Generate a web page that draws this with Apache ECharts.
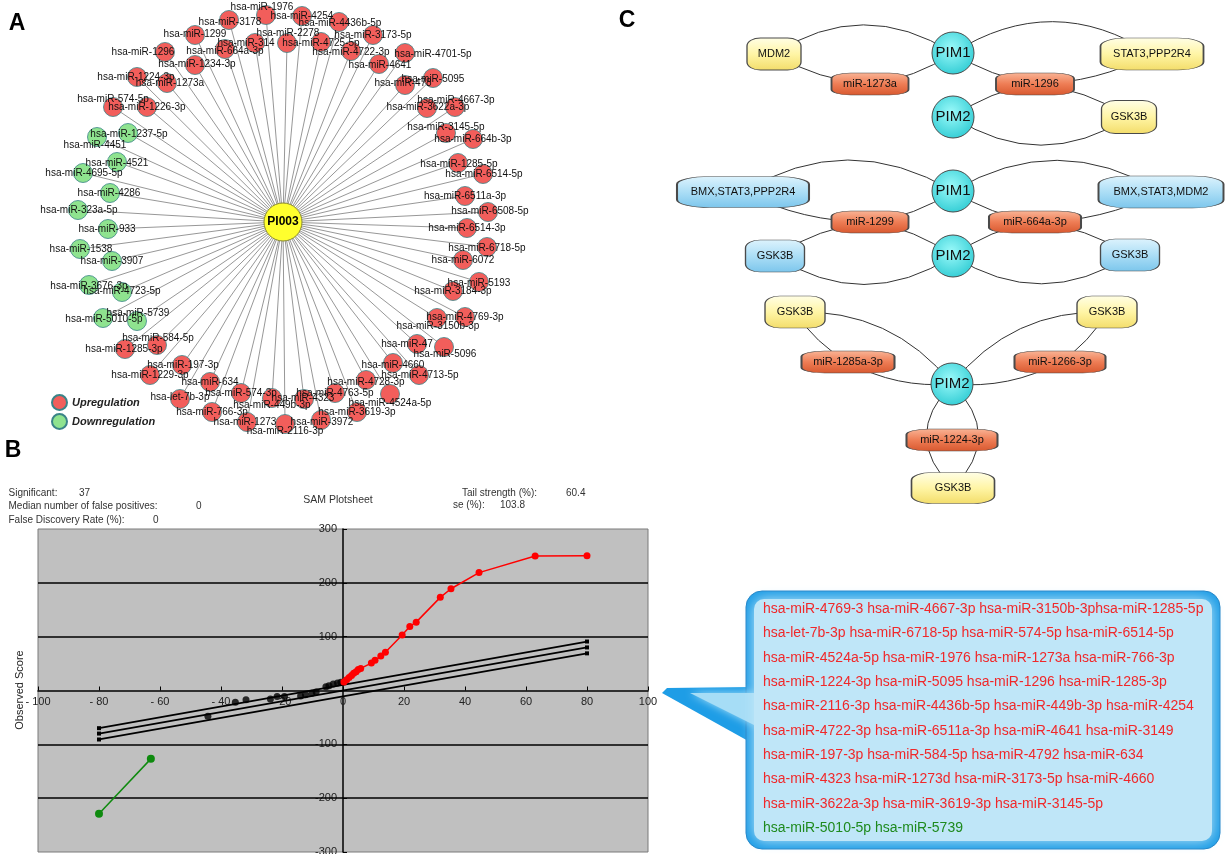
<!DOCTYPE html>
<html><head><meta charset="utf-8">
<script src="https://cdn.jsdelivr.net/npm/echarts@6/dist/echarts.min.js"></script>
<style>html,body{margin:0;padding:0;background:#fff}#c{width:1225px;height:854px}</style>
</head><body><div id="c"></div>
<script>
const FONT = "'Liberation Sans', Arial, Helvetica, sans-serif";

// ---------------- Panel A : PI003 – miRNA network ----------------
const hubName = 'PI003';
const upregulated = ['hsa-miR-1976','hsa-miR-3178','hsa-miR-1299','hsa-miR-664a-3p','hsa-miR-314','hsa-miR-1296',
 'hsa-miR-1234-3p','hsa-miR-1224-3p','hsa-miR-1273a','hsa-miR-574-5p','hsa-miR-1226-3p','hsa-miR-4254',
 'hsa-miR-4436b-5p','hsa-miR-2278','hsa-miR-4725-5p','hsa-miR-3173-5p','hsa-miR-4722-3p','hsa-miR-4701-5p',
 'hsa-miR-4641','hsa-miR-5095','hsa-miR-478','hsa-miR-4667-3p','hsa-miR-3622a-3p','hsa-miR-3145-5p',
 'hsa-miR-664b-3p','hsa-miR-1285-5p','hsa-miR-6514-5p','hsa-miR-6511a-3p','hsa-miR-6508-5p','hsa-miR-6514-3p',
 'hsa-miR-6718-5p','hsa-miR-6072','hsa-miR-5193','hsa-miR-3184-3p','hsa-miR-4769-3p','hsa-miR-3150b-3p',
 'hsa-miR-47','hsa-miR-5096','hsa-miR-4660','hsa-miR-4713-5p','hsa-miR-4728-3p','hsa-miR-4524a-5p',
 'hsa-miR-4763-5p','hsa-miR-3619-3p','hsa-miR-3972','hsa-miR-4323','hsa-miR-2116-3p','hsa-miR-449b-3p',
 'hsa-miR-1273','hsa-miR-574-3p','hsa-miR-766-3p','hsa-let-7b-3p','hsa-miR-634','hsa-miR-197-3p',
 'hsa-miR-1229-3p','hsa-miR-584-5p','hsa-miR-1285-3p'];
const downregulated = ['hsa-miR-1237-5p','hsa-miR-4451','hsa-miR-4521','hsa-miR-4695-5p','hsa-miR-4286',
 'hsa-miR-323a-5p','hsa-miR-933','hsa-miR-1538','hsa-miR-3907','hsa-miR-3676-3p','hsa-miR-4723-5p',
 'hsa-miR-5010-5p','hsa-miR-5739'];
const regulationNames = ['Upregulation','Downregulation'];

// layout of network A in page pixels: [nodeX, nodeY, labelX, labelY]
const netLayout = {
 'PI003':[283,222,283,222],
 'hsa-miR-1976':[266,15,262,7],'hsa-miR-3178':[229,20,230,22],'hsa-miR-1299':[195,35,195,34],
 'hsa-miR-664a-3p':[225,49,225,51],'hsa-miR-314':[255,43,246,43],'hsa-miR-1296':[165,52,143,52],
 'hsa-miR-1234-3p':[195,65,197,64],'hsa-miR-1224-3p':[137,77,136,77],'hsa-miR-1273a':[167,83,170,83],
 'hsa-miR-574-5p':[113,107,113,99],'hsa-miR-1226-3p':[147,107,147,107],'hsa-miR-4254':[302,16,302,16],
 'hsa-miR-4436b-5p':[339,22,340,23],'hsa-miR-2278':[287,43,288,33],'hsa-miR-4725-5p':[321,42,321,43],
 'hsa-miR-3173-5p':[373,35,373,35],'hsa-miR-4722-3p':[351,51,351,52],'hsa-miR-4701-5p':[405,53,433,54],
 'hsa-miR-4641':[379,64,380,65],'hsa-miR-5095':[433,78,433,79],'hsa-miR-478':[405,85,403,83],
 'hsa-miR-4667-3p':[455,107,456,100],'hsa-miR-3622a-3p':[427,108,428,107],'hsa-miR-3145-5p':[446,133,446,127],
 'hsa-miR-664b-3p':[473,139,473,139],'hsa-miR-1285-5p':[458,163,459,164],'hsa-miR-6514-5p':[483,174,484,174],
 'hsa-miR-6511a-3p':[465,196,465,196],'hsa-miR-6508-5p':[488,212,490,211],'hsa-miR-6514-3p':[467,228,467,228],
 'hsa-miR-6718-5p':[487,247,487,248],'hsa-miR-6072':[463,260,463,260],'hsa-miR-5193':[479,282,479,283],
 'hsa-miR-3184-3p':[453,291,453,291],'hsa-miR-4769-3p':[465,317,465,317],'hsa-miR-3150b-3p':[437,318,438,326],
 'hsa-miR-47':[417,344,407,344],'hsa-miR-5096':[444,347,445,354],'hsa-miR-4660':[393,363,393,365],
 'hsa-miR-4713-5p':[419,375,420,375],'hsa-miR-4728-3p':[366,380,366,382],'hsa-miR-4524a-5p':[390,394,390,403],
 'hsa-miR-4763-5p':[335,393,335,393],'hsa-miR-3619-3p':[357,412,357,412],'hsa-miR-3972':[321,420,322,422],
 'hsa-miR-4323':[304,399,303,398],'hsa-miR-2116-3p':[285,424,285,431],'hsa-miR-449b-3p':[272,398,272,405],
 'hsa-miR-1273':[247,422,245,422],'hsa-miR-574-3p':[241,393,241,393],'hsa-miR-766-3p':[212,412,212,412],
 'hsa-let-7b-3p':[180,399,180,397],'hsa-miR-634':[210,382,210,382],'hsa-miR-197-3p':[182,365,183,365],
 'hsa-miR-1229-3p':[150,375,150,375],'hsa-miR-584-5p':[157,345,158,338],'hsa-miR-1285-3p':[125,349,124,349],
 'hsa-miR-1237-5p':[128,133,129,134],'hsa-miR-4451':[97,137,95,145],'hsa-miR-4521':[117,162,117,163],
 'hsa-miR-4695-5p':[83,173,84,173],'hsa-miR-4286':[110,193,109,193],'hsa-miR-323a-5p':[78,210,79,210],
 'hsa-miR-933':[108,229,107,229],'hsa-miR-1538':[80,249,81,249],'hsa-miR-3907':[112,261,112,261],
 'hsa-miR-3676-3p':[89,285,89,286],'hsa-miR-4723-5p':[122,292,122,291],'hsa-miR-5010-5p':[103,318,104,319],
 'hsa-miR-5739':[137,321,138,313]
};

// ---------------- Panel B : SAM plot ----------------
const samXTicks = {min:-100, max:100, interval:20};
const samYTicks = {min:-300, max:300, interval:100};
const samGridValues = [200, 100, -100, -200];
const samRed = [[0.3,16],[1.2,20],[2.0,24],[2.8,28],[3.5,32],[4.3,35],[5.0,39],[5.8,41],[9.3,51],[10.5,56],
 [12.4,64],[13.9,71],[19.4,103],[21.9,119],[24.0,127],[31.9,173],[35.4,189],[44.6,219],[63.0,250],[80.0,250.5]];
const samBlack = [[-44.3,-48],[-35.3,-22],[-31.8,-17],[-23.8,-16],[-21.6,-11],[-19.2,-11],[-13.9,-10],[-12.3,-8],
 [-10.2,-5],[-8.8,-3],[-5.6,7],[-4.6,9],[-3.2,12],[-1.8,14],[-0.7,15.5]];
const samGreen = [[-80,-229],[-63,-127]];
const samUpperBand = [[-80,-70],[80,91]];
const samExpected = [[-80,-80],[80,80]];
const samLowerBand = [[-80,-91],[80,69]];
const samStatsLeft = [['Significant:','37'],['Median number of false positives:','0'],['False Discovery Rate (%):','0']];
const samStatsRight = [['Tail strength (%):','60.4'],['se (%):','103.8']];
const samTitle = 'SAM Plotsheet';
const samYName = 'Observed Score';

// ---------------- Panel C : PIM networks ----------------
// [id, label, kind]
const pimNodes = [
 ['c1_MDM2','MDM2','yellow'],['c1_STAT3','STAT3,PPP2R4','yellow'],['c1_PIM1','PIM1','pim'],
 ['c1_m1273a','miR-1273a','mir'],['c1_m1296','miR-1296','mir'],['c1_PIM2','PIM2','pim'],['c1_GSK3B','GSK3B','yellow'],
 ['c2_BMXL','BMX,STAT3,PPP2R4','blue'],['c2_BMXR','BMX,STAT3,MDM2','blue'],['c2_PIM1','PIM1','pim'],
 ['c2_m1299','miR-1299','mir'],['c2_m664a','miR-664a-3p','mir'],['c2_PIM2','PIM2','pim'],
 ['c2_GSKL','GSK3B','blue'],['c2_GSKR','GSK3B','blue'],
 ['c3_GSKL','GSK3B','yellow'],['c3_GSKR','GSK3B','yellow'],['c3_m1285a','miR-1285a-3p','mir'],
 ['c3_m1266','miR-1266-3p','mir'],['c3_PIM2','PIM2','pim'],['c3_m1224','miR-1224-3p','mir'],['c3_GSKB','GSK3B','yellow']
];
const pimLinks = [
 ['c1_MDM2','c1_PIM1'],['c1_MDM2','c1_m1273a'],['c1_m1273a','c1_PIM1'],['c1_PIM1','c1_STAT3'],
 ['c1_PIM1','c1_m1296'],['c1_m1296','c1_STAT3'],['c1_PIM2','c1_m1296'],['c1_m1296','c1_GSK3B'],['c1_PIM2','c1_GSK3B'],
 ['c2_BMXL','c2_PIM1'],['c2_BMXL','c2_m1299'],['c2_m1299','c2_PIM1'],['c2_PIM1','c2_BMXR'],
 ['c2_PIM1','c2_m664a'],['c2_m664a','c2_BMXR'],['c2_GSKL','c2_m1299'],['c2_m1299','c2_PIM2'],
 ['c2_GSKL','c2_PIM2'],['c2_PIM2','c2_m664a'],['c2_m664a','c2_GSKR'],['c2_PIM2','c2_GSKR'],
 ['c3_GSKL','c3_PIM2'],['c3_GSKL','c3_m1285a'],['c3_m1285a','c3_PIM2'],['c3_PIM2','c3_GSKR'],
 ['c3_m1266','c3_GSKR'],['c3_PIM2','c3_m1266'],['c3_PIM2','c3_GSKB'],['c3_PIM2','c3_GSKB']
];
// layout (pixels): [x, y, width, height]
const pimLayout = {
 c1_MDM2:[774,54,54,32], c1_STAT3:[1152,54,103,32], c1_PIM1:[953,53,42,42], c1_m1273a:[870,84,77,22],
 c1_m1296:[1035,84,78,22], c1_PIM2:[953,117,42,42], c1_GSK3B:[1129,117,55,33],
 c2_BMXL:[743,192,132,31], c2_BMXR:[1161,192,125,32], c2_PIM1:[953,191,42,42], c2_m1299:[870,222,77,22],
 c2_m664a:[1035,222,92,22], c2_PIM2:[953,256,42,42], c2_GSKL:[775,256,59,32], c2_GSKR:[1130,255,59,32],
 c3_GSKL:[795,312,60,32], c3_GSKR:[1107,312,60,32], c3_m1285a:[848,362,93,22], c3_m1266:[1060,362,91,22],
 c3_PIM2:[952,384,42,42], c3_m1224:[952,440,91,22], c3_GSKB:[953,488,83,31]
};
const pimLinkCurve = [0.32,-0.12,-0.12,0.32,-0.1,-0.12,0.12,0.12,-0.32,
 0.3,-0.12,-0.12,0.3,-0.1,-0.12,0.12,0.12,-0.32,0.12,0.12,-0.32,
 0.25,-0.12,-0.15,0.25,-0.12,-0.15,0.5,-0.5];

// ---------------- Callout box ----------------
const calloutRed = [
 'hsa-miR-4769-3 hsa-miR-4667-3p hsa-miR-3150b-3phsa-miR-1285-5p',
 'hsa-let-7b-3p hsa-miR-6718-5p hsa-miR-574-5p hsa-miR-6514-5p',
 'hsa-miR-4524a-5p hsa-miR-1976 hsa-miR-1273a hsa-miR-766-3p',
 'hsa-miR-1224-3p hsa-miR-5095 hsa-miR-1296 hsa-miR-1285-3p',
 'hsa-miR-2116-3p hsa-miR-4436b-5p hsa-miR-449b-3p hsa-miR-4254',
 'hsa-miR-4722-3p hsa-miR-6511a-3p hsa-miR-4641 hsa-miR-3149',
 'hsa-miR-197-3p hsa-miR-584-5p hsa-miR-4792 hsa-miR-634',
 'hsa-miR-4323 hsa-miR-1273d hsa-miR-3173-5p hsa-miR-4660',
 'hsa-miR-3622a-3p hsa-miR-3619-3p hsa-miR-3145-5p'
];
const calloutGreen = ['hsa-miR-5010-5p hsa-miR-5739'];
const panelLetters = [['A',17,24],['B',13,451],['C',627,21]];

// ====================== build ======================
const chart = echarts.init(document.getElementById('c'));

const upColor = '#F25E5B', downColor = '#8FE38F';
const aNodes = [];
(function(){
  const L = netLayout[hubName];
  aNodes.push({name:hubName, value:[L[0],L[1]], category:2, symbolSize:38,
    itemStyle:{borderColor:'#8a8a30', borderWidth:1},
    label:{fontWeight:'bold', fontSize:12, color:'#000'}});
  const add = (n, cat) => { const L = netLayout[n];
    aNodes.push({name:n, value:[L[0],L[1]], category:cat, label:{offset:[L[2]-L[0], L[3]-L[1]]}}); };
  upregulated.forEach(n => add(n,0));
  downregulated.forEach(n => add(n,1));
})();
const aLinks = upregulated.concat(downregulated).map(n => ({source:hubName, target:n}));

function lin(stops){ return {type:'linear',x:0,y:0,x2:0,y2:1,colorStops:stops.map((c,i)=>({offset:i/(stops.length-1),color:c}))}; }
const fills = {
  yellow: lin(['#FFFEE6','#FFF5A6','#F3DD6A']),
  blue: lin(['#DDF3FD','#ACDEF6','#7CC6EC']),
  mir: lin(['#F9B496','#EE7D55','#D8582F']),
  pim: {type:'radial',x:0.45,y:0.4,r:0.65,colorStops:[{offset:0,color:'#9CFAFA'},{offset:1,color:'#2ECBD3'}]}
};
const cNodes = pimNodes.map(([id,label,kind]) => {
  const L = pimLayout[id];
  return {name:id, value:[L[0],L[1]], symbol: kind==='pim' ? 'circle' : 'roundRect',
    symbolSize:[L[2],L[3]], itemStyle:{color:fills[kind], borderColor:'#4a4a4a', borderWidth:1},
    label:{formatter:label, fontSize: kind==='pim'?15:11}};
});
const cLinks = pimLinks.map(([s,t],i) => ({source:s, target:t, lineStyle:{curveness:pimLinkCurve[i]}}));

const graphic = [];
panelLetters.forEach(([t,x,y]) => graphic.push({type:'text', x, y, style:{text:t, fill:'#000',
  font:`bold 23px ${FONT}`, align:'center', verticalAlign:'middle', textAlign:'center', textVerticalAlign:'middle'}}));
const statFont = `10px ${FONT}`;
const leftValX = [79,196,153], rowsY = [493,506,520];
samStatsLeft.forEach(([k,v],i) => {
  graphic.push({type:'text', x:8.5, y:rowsY[i], style:{text:k, fill:'#333', font:statFont, verticalAlign:'middle', textVerticalAlign:'middle'}});
  graphic.push({type:'text', x:leftValX[i], y:rowsY[i], style:{text:v, fill:'#333', font:statFont, verticalAlign:'middle', textVerticalAlign:'middle'}});
});
const rightKeyX = [462,453], rightValX = [566,500], rightY = [493,505];
samStatsRight.forEach(([k,v],i) => {
  graphic.push({type:'text', x:rightKeyX[i], y:rightY[i], style:{text:k, fill:'#333', font:statFont, verticalAlign:'middle', textVerticalAlign:'middle'}});
  graphic.push({type:'text', x:rightValX[i], y:rightY[i], style:{text:v, fill:'#333', font:statFont, verticalAlign:'middle', textVerticalAlign:'middle'}});
});
graphic.push({type:'text', x:338, y:500, style:{text:samTitle, fill:'#333', font:`10.5px ${FONT}`, align:'center', textAlign:'center', verticalAlign:'middle', textVerticalAlign:'middle'}});
graphic.push({type:'text', x:20, y:690, rotation:Math.PI/2, style:{text:samYName, fill:'#222', font:`11px ${FONT}`, align:'center', textAlign:'center', verticalAlign:'middle', textVerticalAlign:'middle'}});

// callout bubble
graphic.push({type:'polygon', z:1, shape:{points:[[750,687],[667,688],[662,693],[750,742]]}, style:{fill:'#1E9DE6'}});
graphic.push({type:'rect', z:1, shape:{x:746,y:591,width:474,height:258,r:16}, style:{fill:'#1E9DE6', stroke:'#1A7FC4', lineWidth:1}});
graphic.push({type:'polygon', z:2, shape:{points:[[756,693],[690,693],[756,726]]}, style:{fill:'#A6DDF6', shadowBlur:8, shadowColor:'#A6DDF6'}});
graphic.push({type:'rect', z:2, shape:{x:754,y:599,width:458,height:242,r:10}, style:{fill:'#BFE6F8', shadowBlur:14, shadowColor:'#BFE6F8'}});
const boxFont = `14px ${FONT}`;
calloutRed.forEach((t,i) => graphic.push({type:'text', z:3, x:763, y:609.3+i*24.3,
  style:{text:t, fill:'#F0282A', font:boxFont, verticalAlign:'middle', textVerticalAlign:'middle'}}));
calloutGreen.forEach((t,i) => graphic.push({type:'text', z:3, x:763, y:609.3+(calloutRed.length+i)*24.3,
  style:{text:t, fill:'#1E8A1E', font:boxFont, verticalAlign:'middle', textVerticalAlign:'middle'}}));

const bandSeries = (data) => ({type:'line', xAxisIndex:1, yAxisIndex:1, data, symbol:'rect', symbolSize:4,
  itemStyle:{color:'#000'}, lineStyle:{color:'#000', width:1.8}, z:3});

const GB = {left:38, top:529, width:610, height:323};
chart.setOption({
  animation:false,
  textStyle:{fontFamily:FONT},
  grid:[
    {left:0, top:0, width:1225, height:854, show:false, outerBoundsMode:'none', containLabel:false},
    {left:GB.left, top:GB.top, width:GB.width, height:GB.height, show:true, backgroundColor:'#C0C0C0',
     borderColor:'#7a7a7a', borderWidth:1, outerBoundsMode:'none', containLabel:false}
  ],
  xAxis:[
    {gridIndex:0, type:'value', min:0, max:1225, show:false},
    {gridIndex:1, type:'value', position:'bottom', offset:-GB.height/2,
     min:samXTicks.min, max:samXTicks.max, interval:samXTicks.interval,
     axisLine:{onZero:false, lineStyle:{color:'#000', width:1.5}},
     axisTick:{show:true, inside:true, length:4, lineStyle:{color:'#000'}},
     axisLabel:{fontSize:11, color:'#222', margin:6, formatter:v => v<0 ? '- '+Math.abs(v) : String(v)},
     splitLine:{show:false}}
  ],
  yAxis:[
    {gridIndex:0, type:'value', min:0, max:854, inverse:true, show:false},
    {gridIndex:1, type:'value', position:'left', offset:-GB.width/2,
     min:samYTicks.min, max:samYTicks.max, interval:samYTicks.interval,
     axisLine:{onZero:false, lineStyle:{color:'#000', width:1.5}},
     axisTick:{show:true, inside:true, length:4, lineStyle:{color:'#000'}},
     axisLabel:{fontSize:11, color:'#222', margin:6, formatter:v => v===0 ? '' : String(v)},
     splitLine:{show:false}}
  ],
  legend:{data:regulationNames, orient:'vertical', left:46, top:389, itemWidth:15, itemHeight:15, itemGap:2,
    icon:'circle', selectedMode:false,
    textStyle:{fontStyle:'italic', fontWeight:'bold', fontSize:11, color:'#222', fontFamily:FONT}},
  graphic: graphic,
  series:[
    {type:'graph', name:'A', coordinateSystem:'cartesian2d', xAxisIndex:0, yAxisIndex:0, layout:'none',
     symbol:'circle', symbolSize:19, z:3, silent:true,
     categories:[{name:regulationNames[0], itemStyle:{color:upColor}},{name:regulationNames[1], itemStyle:{color:downColor}},
                 {name:'hub', itemStyle:{color:'#FFFF2E'}}],
     data:aNodes, links:aLinks,
     itemStyle:{borderColor:'#3A8488', borderWidth:0.8},
     lineStyle:{color:'#505050', width:0.6, opacity:1, curveness:0},
     label:{show:true, position:'inside', color:'#111', fontSize:10, fontFamily:FONT},
     emphasis:{disabled:true}},
    {type:'graph', name:'C', coordinateSystem:'cartesian2d', xAxisIndex:0, yAxisIndex:0, layout:'none',
     z:3, silent:true, data:cNodes, links:cLinks,
     lineStyle:{color:'#333', width:1, opacity:1},
     label:{show:true, position:'inside', color:'#111', fontFamily:FONT},
     emphasis:{disabled:true}},
    {type:'line', xAxisIndex:1, yAxisIndex:1, data:[], silent:true,
     markLine:{silent:true, symbol:'none', label:{show:false}, lineStyle:{color:'#000', width:1.5, type:'solid'},
       data:samGridValues.map(v => ({yAxis:v}))}},
    bandSeries(samUpperBand), bandSeries(samExpected), bandSeries(samLowerBand),
    {type:'scatter', xAxisIndex:1, yAxisIndex:1, data:samBlack, symbolSize:7, itemStyle:{color:'#000'}, z:4},
    {type:'line', xAxisIndex:1, yAxisIndex:1, data:samRed, symbol:'circle', symbolSize:7, showAllSymbol:true,
     itemStyle:{color:'#FF0000'}, lineStyle:{color:'#FF0000', width:1.5}, z:5},
    {type:'line', xAxisIndex:1, yAxisIndex:1, data:samGreen, symbol:'circle', symbolSize:8,
     itemStyle:{color:'#0E8A0E'}, lineStyle:{color:'#0E8A0E', width:1.5}, z:5}
  ]
});
</script></body></html>
